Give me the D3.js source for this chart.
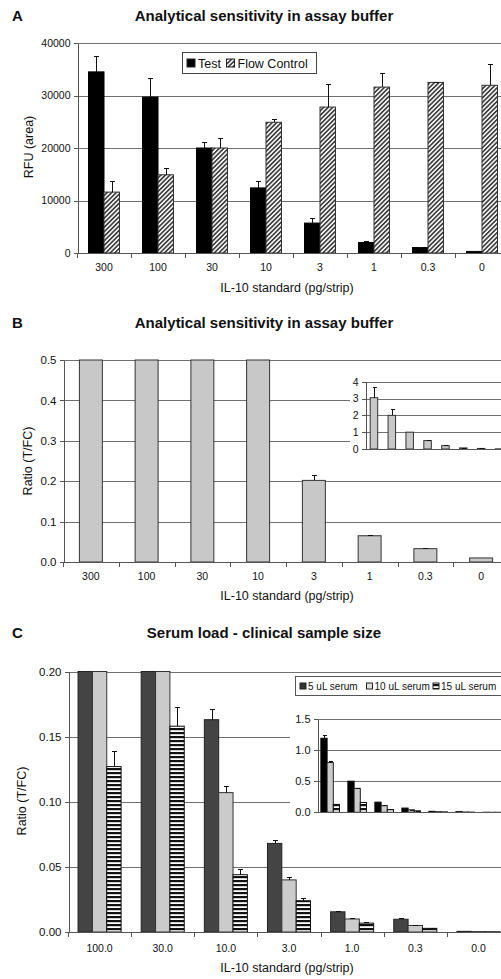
<!DOCTYPE html>
<meta charset="utf-8">
<head>
    <title>IL-10 assay sensitivity</title>
    <script src="https://cdn.jsdelivr.net/npm/d3@7"></script>
</head>

<style>
    body { margin: 0; background: #fff; }
    svg { display: block; font-family: "Liberation Sans", Arial, sans-serif; fill: #111; }
    .grid { stroke: #707070; stroke-width: 1; shape-rendering: crispEdges; }
    .axis path, .axis line { stroke: #555; shape-rendering: crispEdges; }
    .axis text { fill: #111; }
    .title { font-weight: bold; font-size: 15px; text-anchor: middle; }
    .plabel { font-weight: bold; font-size: 15px; }
    .atitle { font-size: 12.5px; text-anchor: middle; }
    .err { stroke: #111; stroke-width: 1; shape-rendering: crispEdges; }
</style>

<svg></svg>

<script>
    var vWidth = 501;
    var vHeight = 979;

    // Panel A - RFU for test and flow control lines
    var catsA = ["300", "100", "30", "10", "3", "1", "0.3", "0"];
    var testA = [34500, 29700, 20000, 12400, 5700, 2000, 1050, 300];
    var testSdA = [3100, 3700, 1200, 1300, 900, 350, 80, 40];
    var flowA = [11600, 14900, 20000, 24900, 27800, 31600, 32500, 31950];
    var flowSdA = [2100, 1300, 1900, 600, 4400, 2700, 120, 4000];
    var ticksA = [0, 10000, 20000, 30000, 40000];

    // Panel B - ratio T/FC
    var catsB = ["300", "100", "30", "10", "3", "1", "0.3", "0"];
    var ratioB = [3.05, 2.0, 1.0, 0.5, 0.202, 0.065, 0.033, 0.010];
    var ratioSdB = [0.62, 0.36, 0.0, 0.05, 0.014, 0.003, 0.002, 0.0];
    var ticksB = [0, 0.1, 0.2, 0.3, 0.4, 0.5];
    var ticksBInset = [0, 1, 2, 3, 4];

    // Panel C - serum load
    var catsC = ["100.0", "30.0", "10.0", "3.0", "1.0", "0.3", "0.0"];
    var serum5 = [1.19, 0.50, 0.163, 0.068, 0.0155, 0.0098, 0.0005];
    var serum5Sd = [0.06, 0.01, 0.008, 0.003, 0.0008, 0.0006, 0];
    var serum10 = [0.80, 0.385, 0.107, 0.040, 0.010, 0.005, 0.0003];
    var serum10Sd = [0.03, 0.01, 0.005, 0.002, 0.0006, 0.0005, 0];
    var serum15 = [0.127, 0.158, 0.044, 0.024, 0.0068, 0.0028, 0.0002];
    var serum15Sd = [0.012, 0.015, 0.004, 0.0018, 0.0006, 0.0004, 0];
    var seriesC = ["5 uL serum", "10 uL serum", "15 uL serum"];
    var ticksC = [0, 0.05, 0.10, 0.15, 0.20];
    var ticksCInset = [0, 0.5, 1.0, 1.5];

    var svg = d3.select('svg').attr('width', vWidth).attr('height', vHeight);

    // fill patterns
    var defs = svg.append('defs');
    var hatch = defs.append('pattern').attr('id', 'hatch')
        .attr('patternUnits', 'userSpaceOnUse').attr('width', 3.2).attr('height', 10)
        .attr('patternTransform', 'rotate(45)');
    hatch.append('rect').attr('width', 3.2).attr('height', 10).attr('fill', '#f2f2f2');
    hatch.append('rect').attr('width', 1.5).attr('height', 10).attr('fill', '#333');
    var stripes = defs.append('pattern').attr('id', 'stripes')
        .attr('patternUnits', 'userSpaceOnUse').attr('width', 10).attr('height', 4);
    stripes.append('rect').attr('width', 10).attr('height', 4).attr('fill', '#fff');
    stripes.append('rect').attr('width', 10).attr('height', 2.2).attr('fill', '#111');

    // generic grouped bar panel
    function drawBars(g, o) {
        var x = d3.scaleBand().domain(o.cats).range(o.xr)
            .paddingInner(o.pad).paddingOuter(o.pad / 2);
        var x1 = d3.scaleBand().domain(d3.range(o.series.length)).range([0, x.bandwidth()]);
        var y = d3.scaleLinear().domain(o.yd).range(o.yr).clamp(true);
        var ymax = o.yd[1];

        if (o.bg) {
            g.append('rect').attr('x', o.bg[0]).attr('y', o.bg[1])
                .attr('width', o.bg[2]).attr('height', o.bg[3]).attr('fill', '#fff');
        }

        g.selectAll('line.grid').data(o.ticks.filter(function (t) { return t > 0; }))
            .enter().append('line').attr('class', 'grid')
            .attr('x1', o.xr[0]).attr('x2', vWidth)
            .attr('y1', function (d) { return Math.round(y(d)) + 0.5; })
            .attr('y2', function (d) { return Math.round(y(d)) + 0.5; });

        o.series.forEach(function (s, si) {
            var gs = g.append('g');
            gs.selectAll('rect').data(s.values).enter().append('rect')
                .attr('x', function (d, i) { return x(o.cats[i]) + x1(si); })
                .attr('y', function (d) { return y(d); })
                .attr('width', x1.bandwidth())
                .attr('height', function (d) { return y(0) - y(d); })
                .attr('fill', s.fill).attr('stroke', s.stroke).attr('stroke-width', 1);
            if (!s.sd) return;
            var show = function (d, i) { return s.sd[i] > 0 && d < ymax ? null : 'none'; };
            var cx = function (d, i) { return Math.round(x(o.cats[i]) + x1(si) + x1.bandwidth() / 2) + 0.5; };
            gs.selectAll('line.v').data(s.values).enter().append('line').attr('class', 'err')
                .attr('x1', cx).attr('x2', cx)
                .attr('y1', function (d) { return y(d); })
                .attr('y2', function (d, i) { return y(d + s.sd[i]); })
                .style('display', show);
            gs.selectAll('line.c').data(s.values).enter().append('line').attr('class', 'err')
                .attr('x1', function (d, i) { return cx(d, i) - o.cap; })
                .attr('x2', function (d, i) { return cx(d, i) + o.cap; })
                .attr('y1', function (d, i) { return Math.round(y(d + s.sd[i])) + 0.5; })
                .attr('y2', function (d, i) { return Math.round(y(d + s.sd[i])) + 0.5; })
                .style('display', show);
        });

        // y axis
        g.append('g').attr('class', 'axis')
            .attr('transform', 'translate(' + (Math.round(o.xr[0]) + 0.5) + ',0)')
            .call(d3.axisLeft(y).tickValues(o.ticks).tickFormat(d3.format(o.fmt))
                .tickSize(4).tickSizeOuter(0).tickPadding(3))
            .call(function (a) {
                a.selectAll('text').style('font-size', o.tickFont + 'px').style('font-family', 'inherit');
            });

        // x axis line
        var base = Math.round(y(0)) + 0.5;
        g.append('line').attr('class', 'grid').style('stroke', '#555')
            .attr('x1', o.xr[0]).attr('x2', vWidth).attr('y1', base).attr('y2', base);

        if (o.labels) {
            g.append('g').attr('class', 'axis').attr('transform', 'translate(0,' + base + ')')
                .call(d3.axisBottom(x).tickSize(0).tickPadding(o.labelPad))
                .call(function (a) {
                    a.select('.domain').remove();
                    a.selectAll('text').style('font-size', '10.5px').style('font-family', 'inherit');
                });
            var bounds = o.cats.map(function (c) { return x(c) - x.step() * x.paddingInner() / 2; });
            bounds.push(o.xr[1]);
            g.selectAll('line.bt').data(bounds).enter().append('line')
                .attr('class', 'grid').style('stroke', '#555')
                .attr('x1', function (d) { return Math.round(d) + 0.5; })
                .attr('x2', function (d) { return Math.round(d) + 0.5; })
                .attr('y1', base).attr('y2', base + 4);
        }
        return { x: x, y: y };
    }

    function titles(label, title, yBase, yTitle, yTitlePos, xTitleY) {
        svg.append('text').attr('class', 'plabel').attr('x', 12).attr('y', yBase).text(label);
        svg.append('text').attr('class', 'title').attr('x', 264).attr('y', yBase).text(title);
        svg.append('text').attr('class', 'atitle')
            .attr('transform', 'translate(' + yTitlePos[0] + ',' + yTitlePos[1] + ') rotate(-90)')
            .attr('dy', '0.35em').text(yTitle);
        svg.append('text').attr('class', 'atitle').attr('x', 287).attr('y', xTitleY)
            .text('IL-10 standard (pg/strip)');
    }

    // ---------- Panel A ----------
    var gA = svg.append('g');
    drawBars(gA, {
        cats: catsA, xr: [77, 509], pad: 0.426, yd: [0, 40000], yr: [253, 43],
        ticks: ticksA, fmt: 'd', tickFont: 10.5, cap: 2.5, labels: true, labelPad: 10,
        series: [
            { values: testA, sd: testSdA, fill: '#000', stroke: '#000' },
            { values: flowA, sd: flowSdA, fill: 'url(#hatch)', stroke: '#333' }
        ]
    });
    titles('A', 'Analytical sensitivity in assay buffer', 21, 'RFU (area)', [29, 147], 292);

    // legend A
    var lgA = svg.append('g');
    lgA.append('rect').attr('x', 182.5).attr('y', 52.5).attr('width', 134).attr('height', 21)
        .attr('fill', '#fff').attr('stroke', '#444');
    var legA = [{ t: 'Test', f: '#000', x: 187 }, { t: 'Flow Control', f: 'url(#hatch)', x: 226.5 }];
    lgA.selectAll('rect.k').data(legA).enter().append('rect')
        .attr('x', function (d) { return d.x; }).attr('y', 59).attr('width', 8).attr('height', 8)
        .attr('fill', function (d) { return d.f; }).attr('stroke', '#222');
    lgA.selectAll('text').data(legA).enter().append('text')
        .attr('x', function (d) { return d.x + 11; }).attr('y', 67.5)
        .style('font-size', '12.5px').text(function (d) { return d.t; });

    // ---------- Panel B ----------
    var gB = svg.append('g');
    drawBars(gB, {
        cats: catsB, xr: [63, 509], pad: 0.588, yd: [0, 0.5], yr: [562, 360],
        ticks: ticksB, fmt: '.1f', tickFont: 11.5, cap: 2.5, labels: true, labelPad: 10,
        series: [{ values: ratioB, sd: ratioSdB, fill: '#c8c8c8', stroke: '#333' }]
    });
    titles('B', 'Analytical sensitivity in assay buffer', 328, 'Ratio (T/FC)', [28, 461], 600);

    var gBi = svg.append('g');
    drawBars(gBi, {
        cats: catsB, xr: [365, 508], pad: 0.58, yd: [0, 4], yr: [449, 381.7],
        ticks: ticksBInset, fmt: 'd', tickFont: 10.5, cap: 2, labels: false,
        bg: [350, 372, 151, 84],
        series: [{ values: ratioB, sd: ratioSdB, fill: '#c8c8c8', stroke: '#333' }]
    });

    // ---------- Panel C ----------
    var gC = svg.append('g');
    drawBars(gC, {
        cats: catsC, xr: [68, 510], pad: 0.318, yd: [0, 0.2], yr: [932, 671.5],
        ticks: ticksC, fmt: '.2f', tickFont: 11.5, cap: 2.5, labels: true, labelPad: 12,
        series: [
            { values: serum5, sd: serum5Sd, fill: '#444', stroke: '#222' },
            { values: serum10, sd: serum10Sd, fill: '#cbcbcb', stroke: '#333' },
            { values: serum15, sd: serum15Sd, fill: 'url(#stripes)', stroke: '#111' }
        ]
    });
    titles('C', 'Serum load - clinical sample size', 638, 'Ratio (T/FC)', [22, 801], 972);

    var gCi = svg.append('g');
    drawBars(gCi, {
        cats: catsC, xr: [316.7, 505.7], pad: 0.31, yd: [0, 1.5], yr: [812.3, 719],
        ticks: ticksCInset, fmt: '.1f', tickFont: 11, cap: 2, labels: false,
        bg: [290, 674, 211, 186],
        series: [
            { values: serum5, sd: serum5Sd, fill: '#000', stroke: '#000' },
            { values: serum10, sd: serum10Sd, fill: '#cbcbcb', stroke: '#222' },
            { values: serum15, sd: serum15Sd, fill: 'url(#stripes)', stroke: '#111' }
        ]
    });

    // legend C
    var lgC = svg.append('g');
    lgC.append('rect').attr('x', 295.5).attr('y', 676.5).attr('width', 220).attr('height', 19)
        .attr('fill', '#fff').attr('stroke', '#555');
    var legC = [
        { t: seriesC[0], f: '#333', x: 300 },
        { t: seriesC[1], f: '#ddd', x: 366.5 },
        { t: seriesC[2], f: 'url(#stripes)', x: 433 }
    ];
    lgC.selectAll('rect.k').data(legC).enter().append('rect')
        .attr('x', function (d) { return d.x; }).attr('y', 683).attr('width', 6).attr('height', 6)
        .attr('fill', function (d) { return d.f; }).attr('stroke', '#222');
    lgC.selectAll('text').data(legC).enter().append('text')
        .attr('x', function (d) { return d.x + 8; }).attr('y', 689.5)
        .style('font-size', '10px').text(function (d) { return d.t; });
</script>
